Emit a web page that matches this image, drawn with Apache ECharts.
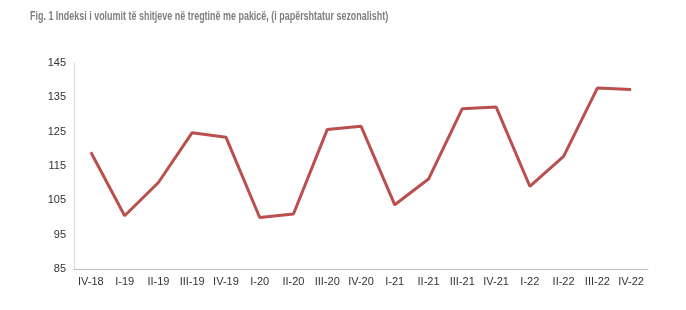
<!DOCTYPE html>
<html><head><meta charset="utf-8">
<script src="https://cdn.jsdelivr.net/npm/echarts@6/dist/echarts.min.js"></script>
<style>html,body{margin:0;padding:0;background:#fff}#c{width:686px;height:310px}</style>
</head><body><div id="c"></div>
<script>
const categories = ["IV-18","I-19","II-19","III-19","IV-19","I-20","II-20","III-20","IV-20","I-21","II-21","III-21","IV-21","I-22","II-22","III-22","IV-22"];
const values = [119.0,100.5,110.2,124.7,123.4,100.0,101.0,125.6,126.6,103.7,111.2,131.7,132.2,109.1,117.8,137.7,137.3];
const yTicks = {min:85, max:145, interval:10};
const titleText = "Fig. 1 Indeksi i volumit të shitjeve në tregtinë me pakicë, (i papërshtatur sezonalisht)";
const chart = echarts.init(document.getElementById('c'), null, {renderer:'canvas'});
chart.setOption({
  animation:false,
  graphic:[{type:'text', left:30, top:11, scaleX:0.746, originX:0,
    style:{text:titleText, font:'bold 12px "Liberation Sans"', fill:'#7f7f7f'}}],
  grid:{left:74, right:38, top:63, bottom:41},
  xAxis:{type:'category', data:categories, boundaryGap:true,
    axisLine:{lineStyle:{color:'#bfbfbf', width:1}}, axisTick:{show:false},
    axisLabel:{color:'#333', fontFamily:'Liberation Sans', fontSize:11, margin:7, interval:0}},
  yAxis:{type:'value', min:yTicks.min, max:yTicks.max, interval:yTicks.interval,
    axisLine:{show:true, lineStyle:{color:'#d9d9d9', width:1}}, axisTick:{show:false},
    splitLine:{show:false},
    axisLabel:{color:'#333', fontFamily:'Liberation Sans', fontSize:11, margin:8}},
  series:[{type:'line', data:values, symbol:'none', lineStyle:{color:'#b9504e', width:3}}]
});
</script></body></html>
